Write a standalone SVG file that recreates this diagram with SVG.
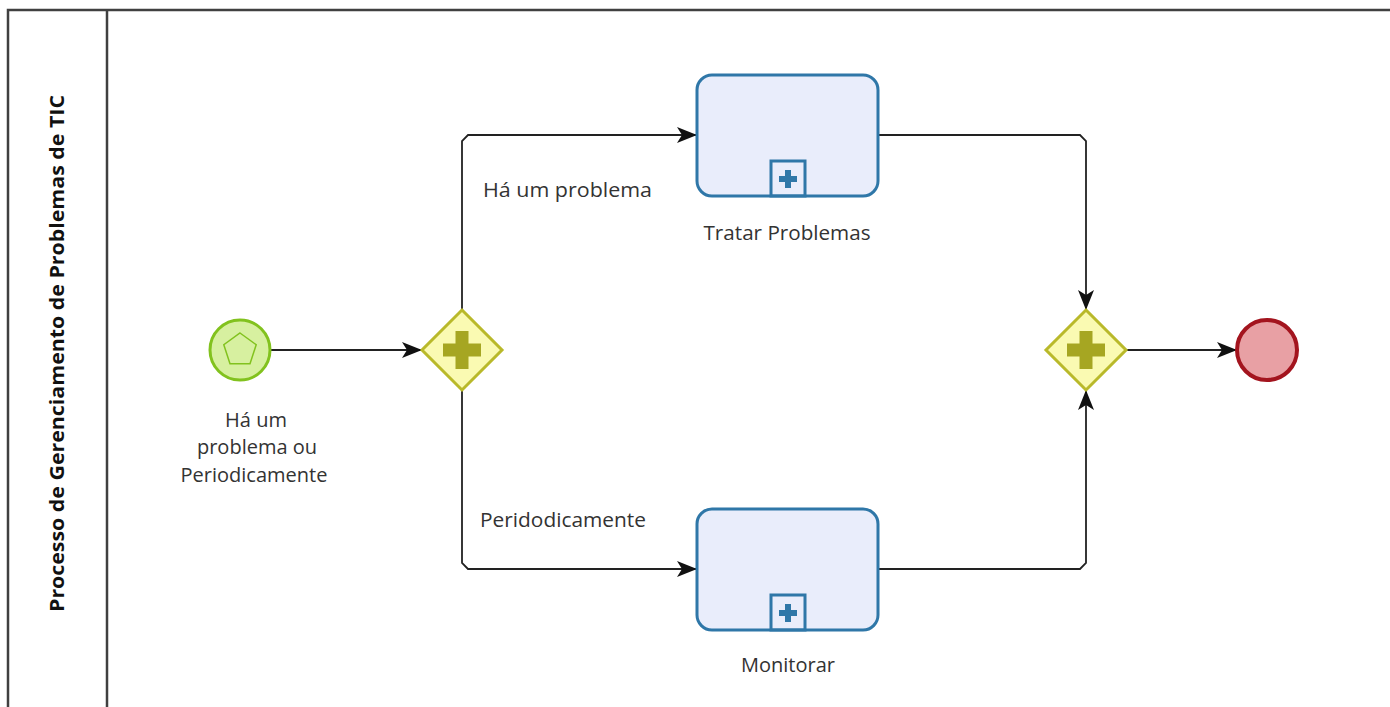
<svg xmlns="http://www.w3.org/2000/svg" width="1390" height="707" viewBox="0 0 1390 707">
<defs>
<style>
.pool{fill:none;stroke:#404040;stroke-width:2.5}
.lbl{font-family:"Open Sans","DejaVu Sans",sans-serif;font-size:20px;fill:#333}
.title{font-family:"Open Sans","DejaVu Sans",sans-serif;font-size:20px;font-weight:bold;fill:#111}
.flow{fill:none;stroke:#222;stroke-width:1.8}
.task{fill:#e9edfb;stroke:#2f77a8;stroke-width:3}
.gw{fill:#fafab2;stroke:#b9b92a;stroke-width:3}
.gwplus{fill:#a6a622}
</style>
<marker id="arr" viewBox="0 0 20 16" refX="19" refY="8" markerWidth="20" markerHeight="16" markerUnits="userSpaceOnUse" orient="auto">
<path d="M0,0 L20,8 L0,16 L5,8 Z" fill="#111"/>
</marker>
</defs>
<rect width="1390" height="707" fill="#fff"/>
<g id="pool">
<path class="pool" d="M8,720 L8,10 L1400,10"/>
<line class="pool" x1="107" y1="10" x2="107" y2="720"/>
<text class="title" transform="translate(64,353.5) rotate(-90)" text-anchor="middle" textLength="517" lengthAdjust="spacingAndGlyphs">Processo de Gerenciamento de Problemas de TIC</text>
</g>
<g id="connectors">
<line class="flow" x1="271" y1="350" x2="421" y2="350" marker-end="url(#arr)"/>
<path class="flow" d="M462,310 L462,141 L468,135 L696,135" marker-end="url(#arr)"/>
<path class="flow" d="M462,390 L462,563 L468,569 L696,569" marker-end="url(#arr)"/>
<path class="flow" d="M878,135 L1080,135 L1086,141 L1086,309" marker-end="url(#arr)"/>
<path class="flow" d="M878,569 L1080,569 L1086,563 L1086,391" marker-end="url(#arr)"/>
<line class="flow" x1="1126" y1="350" x2="1236" y2="350" marker-end="url(#arr)"/>
<text class="lbl" x="483" y="197" textLength="169" lengthAdjust="spacingAndGlyphs">Há um problema</text>
<text class="lbl" x="480" y="527" textLength="166" lengthAdjust="spacingAndGlyphs">Peridodicamente</text>
</g>
<g id="start">
<circle cx="240" cy="350" r="30" fill="#d7f0a0" stroke="#82c21e" stroke-width="3"/>
<polygon points="240,333 256.2,344.7 250,363.8 230,363.8 223.8,344.7" fill="none" stroke="#82c21e" stroke-width="1.5"/>
<text class="lbl" text-anchor="middle"><tspan x="256" y="427">Há um</tspan><tspan x="257" y="454">problema ou</tspan><tspan x="254" y="482">Periodicamente</tspan></text>
</g>
<g id="gateway1">
<polygon class="gw" points="462,310 502,350 462,390 422,350"/>
<path class="gwplus" d="M455.5,331 h13 v12.5 h12.5 v13 h-12.5 v12.5 h-13 v-12.5 h-12.5 v-13 h12.5 z"/>
</g>
<g id="task1">
<rect class="task" x="697" y="75" width="181" height="121" rx="15"/>
<rect x="771" y="161" width="34" height="35" fill="none" stroke="#2f77a8" stroke-width="3"/>
<path d="M785,170 h6 v6 h6 v6 h-6 v6 h-6 v-6 h-6 v-6 h6 z" fill="#2f77a8"/>
<text class="lbl" x="787" y="240" text-anchor="middle" textLength="167" lengthAdjust="spacingAndGlyphs">Tratar Problemas</text>
</g>
<g id="task2">
<rect class="task" x="697" y="509" width="181" height="121" rx="15"/>
<rect x="771" y="595" width="34" height="35" fill="none" stroke="#2f77a8" stroke-width="3"/>
<path d="M785,604 h6 v6 h6 v6 h-6 v6 h-6 v-6 h-6 v-6 h6 z" fill="#2f77a8"/>
<text class="lbl" x="788" y="672" text-anchor="middle">Monitorar</text>
</g>
<g id="gateway2">
<polygon class="gw" points="1086,310 1126,350 1086,390 1046,350"/>
<path class="gwplus" d="M1079.5,331 h13 v12.5 h12.5 v13 h-12.5 v12.5 h-13 v-12.5 h-12.5 v-13 h12.5 z"/>
</g>
<g id="end">
<circle cx="1267" cy="350" r="30" fill="#e8a0a4" stroke="#a3141e" stroke-width="4"/>
</g>
</svg>
